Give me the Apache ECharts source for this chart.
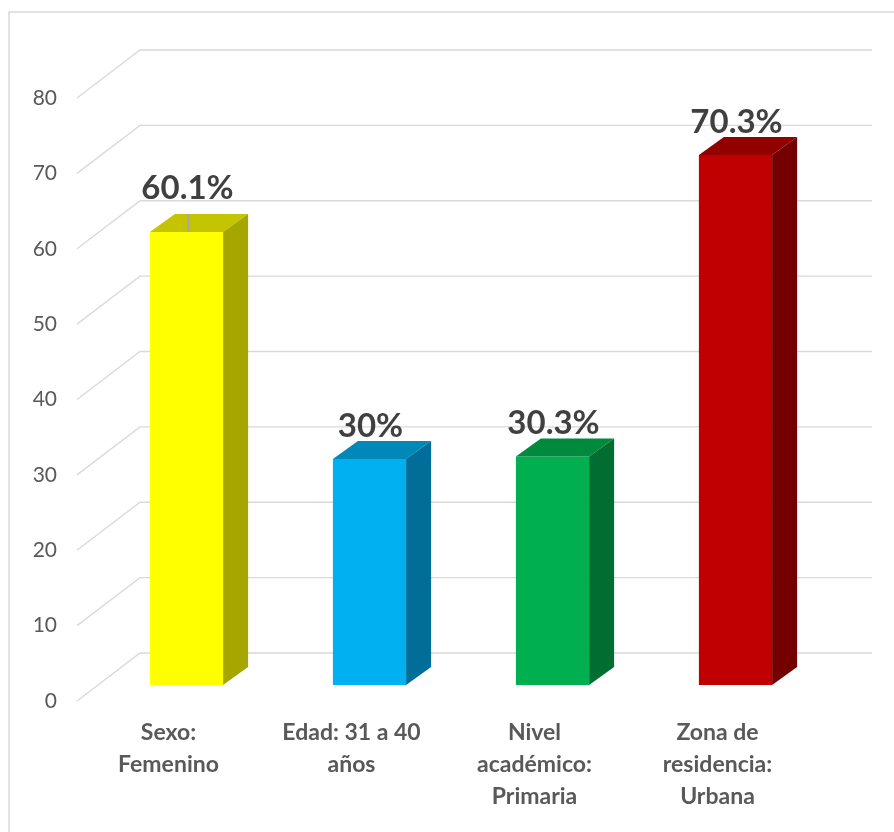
<!DOCTYPE html>
<html>
<head>
<meta charset="utf-8">
<script src="https://cdn.jsdelivr.net/npm/echarts@6/dist/echarts.min.js"></script>
<style>
html,body{margin:0;padding:0;background:#fff;}
#chart{width:894px;height:832px;}
</style>
</head>
<body>
<div id="chart"></div>
<script>
// ---- data ----
const categories = ['Sexo:\nFemenino', 'Edad: 31 a 40\naños', 'Nivel\nacadémico:\nPrimaria', 'Zona de\nresidencia:\nUrbana'];
const values = [60.1, 30, 30.3, 70.3];
const labels = ['60.1%', '30%', '30.3%', '70.3%'];
const yTicks = [0, 10, 20, 30, 40, 50, 60, 70, 80];

// ---- styles ----
const palette = [
  { front: '#FFFF00', top: '#C4C400', side: '#A6A600' },
  { front: '#00B0F0', top: '#0088B9', side: '#006E98' },
  { front: '#00B050', top: '#008A3E', side: '#006E30' },
  { front: '#C00000', top: '#920000', side: '#740000' }
];
const FRONT_DX = 18, FRONT_DY = -16;   // bar front plane behind floor front edge
const DEPTH_DX = 25, DEPTH_DY = -18;   // bar depth
const WALL_DX = 63, WALL_DY = -48;     // back wall offset
const labelLift = [11, 0, 0, 0];

const chart = echarts.init(document.getElementById('chart'), null, { renderer: 'canvas' });

function renderGrid(params, api) {
  const v = api.value(1);
  const p = api.coord([0, v]);
  const cs = params.coordSys;
  const x0 = cs.x, y = p[1];
  return {
    type: 'polyline',
    shape: { points: [[x0, y], [x0 + WALL_DX, y + WALL_DY], [cs.x + cs.width + WALL_DX, y + WALL_DY]] },
    style: { stroke: '#d9d9d9', lineWidth: 1.3, fill: null }
  };
}

function renderBar(params, api) {
  const i = api.value(0), v = api.value(1);
  const top = api.coord([i, v]);
  const base = api.coord([i, 0]);
  const w = api.size([1, 0])[0] * 0.4;
  const fx = top[0] + FRONT_DX - w / 2;
  const fy = top[1] + FRONT_DY;
  const by = base[1] + FRONT_DY;
  const c = palette[i];
  const children = [
    { type: 'rect', shape: { x: fx, y: fy, width: w, height: by - fy }, style: { fill: c.front } },
    { type: 'polygon', shape: { points: [[fx, fy], [fx + DEPTH_DX, fy + DEPTH_DY], [fx + w + DEPTH_DX, fy + DEPTH_DY], [fx + w, fy]] }, style: { fill: c.top } },
    { type: 'polygon', shape: { points: [[fx + w, fy], [fx + w + DEPTH_DX, fy + DEPTH_DY], [fx + w + DEPTH_DX, by + DEPTH_DY], [fx + w, by]] }, style: { fill: c.side } }
  ];
  if (labelLift[i] > 0) {
    children.push({ type: 'line', shape: { x1: fx + w / 2 + 2, y1: fy + DEPTH_DY, x2: fx + w / 2 + 2, y2: fy }, style: { stroke: '#a6a6a6', lineWidth: 1.5 } });
  }
  children.push({
    type: 'text',
    style: {
      text: labels[i], x: fx + w / 2 + 1, y: fy - 33 - labelLift[i],
      align: 'center', verticalAlign: 'middle',
      font: 'bold 33px Lato', fill: '#404040'
    }
  });
  return { type: 'group', children: children };
}

const option = {
  backgroundColor: '#ffffff',
  animation: false,
  graphic: [{
    type: 'rect', z: -10,
    shape: { x: 9, y: 12, width: 1000, height: 1000 },
    style: { fill: null, stroke: '#d9d9d9', lineWidth: 1.5 }
  }],
  grid: { left: 77, right: 85, top: 98, bottom: 131, containLabel: false },
  xAxis: {
    type: 'category',
    data: categories,
    axisLine: { show: false },
    axisTick: { show: false },
    splitLine: { show: false },
    axisLabel: {
      interval: 0, margin: 16,
      fontFamily: 'Lato', fontWeight: 'bold', fontSize: 23, lineHeight: 32,
      color: '#595959'
    }
  },
  yAxis: {
    type: 'value', min: 0, max: 80, interval: 10,
    axisLine: { show: false },
    axisTick: { show: false },
    splitLine: { show: false },
    axisLabel: { margin: 20, fontFamily: 'Lato', fontSize: 21, color: '#595959' }
  },
  series: [
    {
      type: 'custom', name: 'grid', z: 1, silent: true,
      renderItem: renderGrid,
      data: yTicks.map(t => [0, t])
    },
    {
      type: 'custom', name: 'bars', z: 5,
      renderItem: renderBar,
      data: values.map((v, i) => [i, v])
    }
  ]
};
chart.setOption(option);
</script>
</body>
</html>
